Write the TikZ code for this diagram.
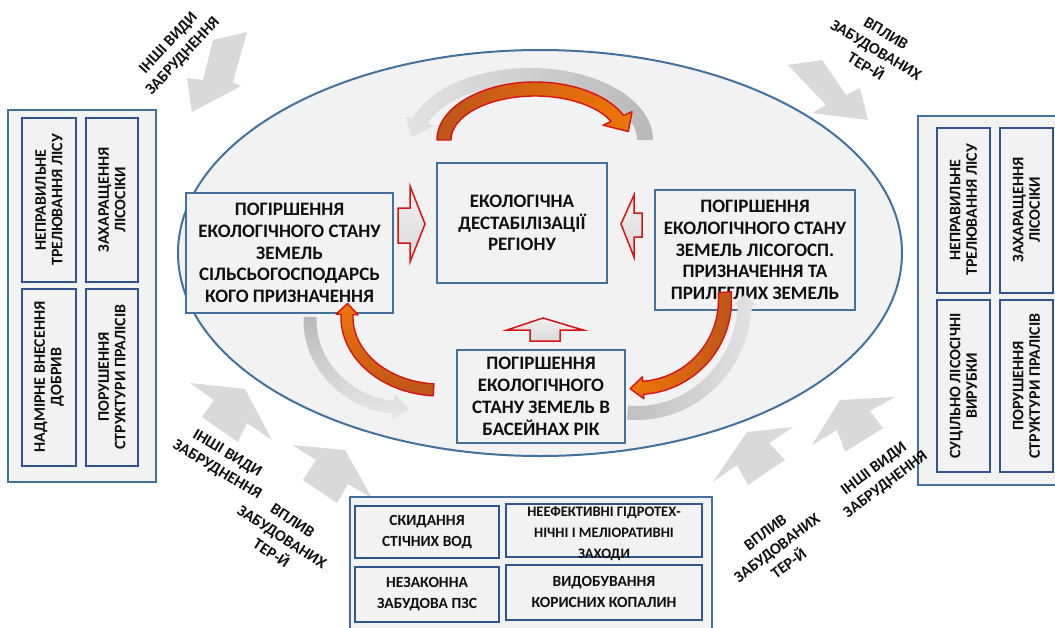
\documentclass[tikz,border=0pt]{standalone}
\usepackage{fontspec}
\setmainfont{Carlito}
\usetikzlibrary{calc}
\definecolor{bord}{RGB}{65,113,156}
\definecolor{bordd}{RGB}{47,85,140}
\definecolor{boxfill}{RGB}{242,242,242}
\definecolor{redl}{RGB}{215,20,20}
\definecolor{brownf}{RGB}{190,85,25}
\definecolor{orangef}{RGB}{240,118,10}
\definecolor{agray}{RGB}{217,217,217}
\definecolor{txt}{RGB}{15,15,15}
% curved band arrow: #1 style, #2 cx, #3 cy, #4 rx, #5 ry, #6 half width, #7 start angle, #8 end angle, #9 head half width; head length \CAhl
\newcommand{\CArrow}[9]{%
 \pgfmathsetmacro\CAro{#4+#6}%
 \pgfmathsetmacro\CAso{#5+#6}%
 \pgfmathsetmacro\CAri{#4-#6}%
 \pgfmathsetmacro\CAsi{#5-#6}%
 \pgfmathsetmacro\CAsg{2*(#8>#7)-1}%
 \pgfmathsetmacro\CAsx{#2+\CAro*cos(#7)}%
 \pgfmathsetmacro\CAsy{#3+\CAso*sin(#7)}%
 \pgfmathsetmacro\CApx{#2+#4*cos(#8)}%
 \pgfmathsetmacro\CApy{#3+#5*sin(#8)}%
 \pgfmathsetmacro\CAtx{-\CAsg*#4*sin(#8)}%
 \pgfmathsetmacro\CAty{\CAsg*#5*cos(#8)}%
 \pgfmathsetmacro\CAtn{veclen(\CAtx,\CAty)}%
 \pgfmathsetmacro\CAqx{\CApx+\CAhl*\CAtx/\CAtn}%
 \pgfmathsetmacro\CAqy{\CApy+\CAhl*\CAty/\CAtn}%
 \pgfmathsetmacro\CAox{\CApx+#9*cos(#8)}%
 \pgfmathsetmacro\CAoy{\CApy+#9*sin(#8)}%
 \pgfmathsetmacro\CAix{\CApx-#9*cos(#8)}%
 \pgfmathsetmacro\CAiy{\CApy-#9*sin(#8)}%
 \pgfmathsetmacro\CAex{#2+\CAri*cos(#8)}%
 \pgfmathsetmacro\CAey{#3+\CAsi*sin(#8)}%
 \path[#1] (\CAsx,\CAsy) arc[start angle=#7, end angle=#8, x radius=\CAro, y radius=\CAso]
   -- (\CAox,\CAoy) -- (\CAqx,\CAqy) -- (\CAix,\CAiy) -- (\CAex,\CAey)
   arc[start angle=#8, end angle=#7, x radius=\CAri, y radius=\CAsi] -- cycle;%
}
\begin{document}
\begin{tikzpicture}[x=1pt,y=-1pt,
  mainbox/.style={draw=bord, line width=1.6pt, fill=boxfill, align=center, text=txt,
    font=\bfseries\fontsize{19}{21.8}\selectfont, inner sep=0pt},
  panel/.style={draw=bord, line width=1.8pt, fill=boxfill},
  inbox/.style={draw=bordd, line width=2.6pt, fill=boxfill},
  intext/.style={align=center, text=txt, font=\bfseries\fontsize{16}{16.5}\selectfont, inner sep=0pt},
  btext/.style={align=center, text=txt, font=\bfseries\fontsize{15.5}{20.5}\selectfont, inner sep=0pt},
  lab/.style={align=center, text=txt, font=\bfseries\fontsize{16}{19.5}\selectfont, inner sep=0pt},
  garrow/.style={fill=agray},
  blockarr/.style={draw=redl, line width=1.5pt, top color=gray!12, bottom color=gray!30, line join=miter},
  redarr/.style={draw=redl, line width=1.4pt, line join=round},
]
\useasboundingbox (0,0) rectangle (1055,627);
\fill[white] (0,0) rectangle (1055,627);

% outside gray arrows
\fill[garrow] (187,78) -- (203,80) -- (213,40) -- (247,32) -- (233,82) -- (241,86) -- (192,112) -- cycle;
\fill[garrow] (812,113) -- (826,105) -- (788,65) -- (822,60) -- (846,95) -- (860,88) -- (868,120) -- cycle;
\fill[garrow] (190,383) -- (245,389) -- (272,440) -- (247,423) -- (238,442) -- (202,417) -- (214,400) -- cycle;
\fill[garrow] (292,445) -- (345,450) -- (372,498) -- (348,484) -- (337,503) -- (303,480) -- (316,460) -- cycle;
\fill[garrow] (713,482) -- (747,432) -- (793,427) -- (769,443) -- (785,460) -- (748,485) -- (737,465) -- cycle;
\fill[garrow] (812,445) -- (840,400) -- (895,397) -- (870,411) -- (883,428) -- (845,452) -- (837,430) -- cycle;

% ellipse
\draw[draw=bord, line width=2pt, fill=boxfill] (540,253) ellipse [x radius=362, y radius=203];

% left panel
\draw[panel] (8,110) rectangle (156,482);
\draw[inbox] (22,118) rectangle (76,282);
\draw[inbox] (86,118) rectangle (138,282);
\draw[inbox] (22,289) rectangle (76,466);
\draw[inbox] (86,289) rectangle (138,466);
\node[intext, rotate=90] (l1) at (49,200) {НЕПРАВИЛЬНЕ\\ТРЕЛЮВАННЯ ЛІСУ};
\node[intext, rotate=90] (l2) at (112,200) {ЗАХАРАЩЕННЯ\\ЛІСОСІКИ};
\node[intext, rotate=90] (l3) at (49,377) {НАДМІРНЕ ВНЕСЕННЯ\\ДОБРИВ};
\node[intext, rotate=90] (l4) at (112,377) {ПОРУШЕННЯ\\СТРУКТУРИ ПРАЛІСІВ};

% right panel
\draw[panel] (918,116) rectangle (1062,485);
\draw[inbox] (937,128) rectangle (990,293);
\draw[inbox] (1000,128) rectangle (1053,293);
\draw[inbox] (937,300) rectangle (990,472);
\draw[inbox] (1000,300) rectangle (1053,472);
\node[intext, rotate=90] (r1) at (963.5,210) {НЕПРАВИЛЬНЕ\\ТРЕЛЮВАННЯ ЛІСУ};
\node[intext, rotate=90] (r2) at (1026.5,210) {ЗАХАРАЩЕННЯ\\ЛІСОСІКИ};
\node[intext, rotate=90] (r3) at (963.5,386) {СУЦІЛЬНО ЛІСОСІЧНІ\\ВИРУБКИ};
\node[intext, rotate=90] (r4) at (1026.5,386) {ПОРУШЕННЯ\\СТРУКТУРИ ПРАЛІСІВ};

% bottom panel
\draw[panel] (350,497) rectangle (712,640);
\draw[inbox] (355,506) rectangle (499,558);
\draw[inbox] (506,504) rectangle (702,557);
\draw[inbox] (355,567) rectangle (499,622);
\draw[inbox] (506,565) rectangle (702,620);
\node[btext] (b1) at (427,532) {СКИДАННЯ\\СТІЧНИХ ВОД};
\node[btext, font=\bfseries\fontsize{14.5}{21}\selectfont] (b2) at (604,534) {НЕЕФЕКТИВНІ ГІДРОТЕХ-\\НІЧНІ І МЕЛІОРАТИВНІ\\ЗАХОДИ};
\node[btext] (b3) at (427,594) {НЕЗАКОННА\\ЗАБУДОВА ПЗС};
\node[btext] (b4) at (604,592) {ВИДОБУВАННЯ\\КОРИСНИХ КОПАЛИН};

% outside labels
\node[lab, rotate=47] (t1) at (176,50) {ІНШІ ВИДИ\\ЗАБРУДНЕННЯ};
\node[lab, rotate=-31] (t2) at (876,50) {ВПЛИВ\\ЗАБУДОВАНИХ\\ТЕР-Й};
\node[lab, rotate=-31] (t3) at (222,462) {ІНШІ ВИДИ\\ЗАБРУДНЕННЯ};
\node[lab, rotate=-33] (t4) at (282,537) {ВПЛИВ\\ЗАБУДОВАНИХ\\ТЕР-Й};
\node[lab, rotate=37] (t5) at (777,548) {ВПЛИВ\\ЗАБУДОВАНИХ\\ТЕР-Й};
\node[lab, rotate=37] (t6) at (880,477) {ІНШІ ВИДИ\\ЗАБРУДНЕННЯ};

% central boxes
\node[mainbox, minimum width=207pt, minimum height=120pt] (lbox) at (289.5,253)
  {ПОГІРШЕННЯ\\ЕКОЛОГІЧНОГО СТАНУ\\ЗЕМЕЛЬ\\СІЛЬСЬОГОСПОДАРСЬ\\КОГО ПРИЗНАЧЕННЯ};
\node[mainbox, minimum width=170pt, minimum height=120pt] (cbox) at (522,223)
  {ЕКОЛОГІЧНА\\ДЕСТАБІЛІЗАЦІЇ\\РЕГІОНУ};
\node[mainbox, minimum width=200pt, minimum height=120pt] (rbox) at (755,250)
  {ПОГІРШЕННЯ\\ЕКОЛОГІЧНОГО СТАНУ\\ЗЕМЕЛЬ ЛІСОГОСП.\\ПРИЗНАЧЕННЯ ТА\\ПРИЛЕГЛИХ ЗЕМЕЛЬ};
\node[mainbox, minimum width=168pt, minimum height=93pt] (bbox) at (541,396.5)
  {ПОГІРШЕННЯ\\ЕКОЛОГІЧНОГО\\СТАНУ ЗЕМЕЛЬ В\\БАСЕЙНАХ РІК};

% block arrows
\path[blockarr] (398,208) -- (410,208) -- (410,186) -- (425,224) -- (410,262) -- (410,243) -- (398,243) -- cycle;
\path[blockarr] (642,213) -- (634,213) -- (634,195) -- (621,224) -- (634,257) -- (634,237) -- (642,237) -- cycle;
\path[blockarr] (530,341) -- (530,330) -- (507,330) -- (543,318) -- (583,330) -- (560,330) -- (560,341) -- cycle;

% gray arcs
\def\CAhl{18}
\CArrow{left color=gray!22, right color=gray!55}{530}{140}{115}{64}{8}{0}{-163}{15}
\def\CAhl{16}
\CArrow{top color=gray!55, bottom color=gray!18}{405}{320}{95}{88}{6.5}{182}{97}{13}
\def\CAhl{12}
\CArrow{left color=gray!50, right color=gray!22}{637}{300}{108}{113}{7}{95}{3}{12}

% red arrows
\def\CAhl{17}
\CArrow{redarr, left color=brownf, right color=orangef}{535}{140}{91}{51}{7}{-180}{-25}{16}
\def\CAhl{11}
\CArrow{redarr, top color=orangef, bottom color=brownf}{440}{317}{93}{73}{6}{94}{182}{11}
\def\CAhl{13}
\CArrow{redarr, left color=orangef, right color=brownf}{637}{300}{88}{88}{6.5}{-5}{86}{11}
\end{tikzpicture}
\end{document}
